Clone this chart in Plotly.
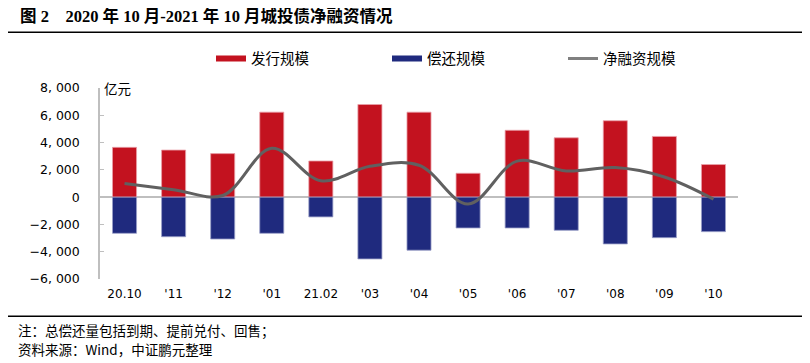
import plotly.graph_objects as go

categories = ["20.10", "'11", "'12", "'01", "21.02", "'03", "'04", "'05", "'06", "'07", "'08", "'09", "'10"]
issuance = [3650, 3450, 3190, 6230, 2650, 6790, 6230, 1750, 4900, 4350, 5600, 4450, 2390]
repayment = [-2650, -2900, -3070, -2650, -1450, -4530, -3890, -2260, -2260, -2430, -3430, -2970, -2530]
net = [1000, 550, 120, 3580, 1200, 2260, 2340, -510, 2640, 1920, 2170, 1480, -140]
ytick_vals = [-6000, -4000, -2000, 0, 2000, 4000, 6000, 8000]
ytick_text = ["−6, 000", "−4, 000", "−2, 000", "0", "2, 000", "4, 000", "6, 000", "8, 000"]

RED = "#C3121F"
BLUE = "#1F2A7E"
GREY = "#606060"
FONT = "Liberation Sans, Noto Sans CJK SC, sans-serif"

OFF = 8  # page body margin offset
W, H = 810, 363
# plot area in screen pixels: x 100..738, y 87.5..279.5
L = 100 - OFF
R = W - (738 - OFF)
T = 87.5 - OFF
B = H - (279.5 - OFF)
pw, ph = W - L - R, H - T - B

def px_to_paper(x, y):
    # x, y are screen pixel positions in the reference
    return (x - OFF - L) / pw, (H - B - (y - OFF)) / ph

fig = go.Figure()
fig.add_trace(go.Bar(x=categories, y=issuance, name="发行规模", marker=dict(color=RED, line=dict(color="#E8A0A8", width=0.8)),
                     showlegend=False))
fig.add_trace(go.Bar(x=categories, y=repayment, name="偿还规模", marker=dict(color=BLUE, line=dict(color="#9AA0C8", width=0.8)),
                     showlegend=False))
fig.add_trace(go.Scatter(x=categories, y=net, name="净融资规模", mode="lines",
                         line=dict(color=GREY, width=3, shape="spline", smoothing=1.0), showlegend=False))
# legend entries
for nm, col, w in [("发行规模", RED, 6), ("偿还规模", BLUE, 6), ("净融资规模", "#808080", 3)]:
    fig.add_trace(go.Scatter(x=[None], y=[None], mode="lines", name=nm, line=dict(color=col, width=w)))

lx, ly = px_to_paper(211, 58)

annotations = []
for text, x, y, font in [
    ("<b>图 2　2020 年 10 月-2021 年 10 月城投债净融资情况</b>", 18, 15,
     dict(family="Liberation Serif, Noto Sans CJK SC", size=16.5)),
    ("亿元", 102, 87, dict(family="Noto Sans CJK SC", size=13.5)),
    ("注：总偿还量包括到期、提前兑付、回售；", 16, 331, dict(family="Noto Sans CJK SC", size=13.5)),
    ("资料来源：Wind，中证鹏元整理", 16, 349.5, dict(family="Noto Sans CJK SC", size=13.5)),
]:
    px, py = px_to_paper(x, y)
    annotations.append(dict(text=text, x=px, y=py, xref="paper", yref="paper", showarrow=False,
                            xanchor="left", yanchor="middle", font=font))

fig.update_layout(
    width=W, height=H,
    margin=dict(l=L, r=R, t=T, b=B, autoexpand=False),
    paper_bgcolor="white", plot_bgcolor="white",
    barmode="relative", bargap=0.51,
    font=dict(family=FONT, size=12, color="#000000"),
    legend=dict(orientation="h", x=lx, xanchor="left", y=ly, yanchor="middle",
                font=dict(size=14.5, family="Noto Sans CJK SC"), entrywidth=131, entrywidthmode="pixels",
                itemwidth=30, bgcolor="rgba(0,0,0,0)"),
    xaxis=dict(showline=False, ticks="", showgrid=False, zeroline=False,
               tickfont=dict(size=12, family="DejaVu Sans"), ticklabelstandoff=6),
    yaxis=dict(range=[-6000, 8000], tickvals=ytick_vals, ticktext=ytick_text, showgrid=False,
               showline=True, linecolor="#BFBFBF", linewidth=1.5, ticks="inside", ticklen=4,
               tickcolor="#BFBFBF", zeroline=True, zerolinecolor="#BFBFBF", zerolinewidth=2,
               tickfont=dict(size=12.5, family="DejaVu Sans"), ticklabelstandoff=16),
    annotations=annotations,
)

for yy in [31.5, 317]:
    x0, y0 = px_to_paper(8, yy)
    x1, _ = px_to_paper(806, yy)
    fig.add_shape(type="line", xref="paper", yref="paper", x0=x0, x1=x1, y0=y0, y1=y0,
                  line=dict(color="black", width=1.5))

fig.write_html("out.html")
